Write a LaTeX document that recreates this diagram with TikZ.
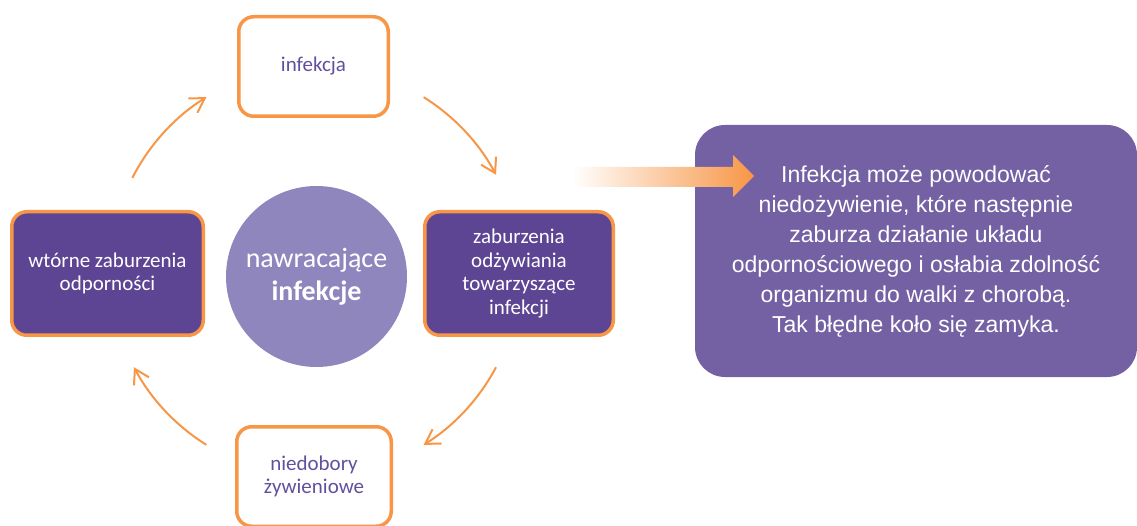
\documentclass[tikz,border=0pt]{standalone}
\usepackage{fontspec}
\setmainfont{Carlito}
\newfontfamily\arialf{Liberation Sans}
\usetikzlibrary{arrows.meta,calc}
\definecolor{orng}{HTML}{F79646}
\definecolor{darkpurp}{HTML}{5E4594}
\definecolor{circpurp}{HTML}{8F86BD}
\definecolor{bigpurp}{HTML}{7461A3}
\definecolor{txtpurp}{HTML}{62509E}
\begin{document}
\begin{tikzpicture}[x=1pt,y=1pt,
  cyclebox/.style={draw=orng, line width=3.5pt, rounded corners=15pt, align=center,
    font=\fontsize{21}{23.5}\selectfont, inner sep=0pt},
  lightbox/.style={cyclebox, fill=white, text=txtpurp},
  darkbox/.style={cyclebox, fill=darkpurp, text=white},
  cyc/.style={draw=orng, line width=2pt, -{Straight Barb[length=14pt,width=17pt]}},
  hubstyle/.style={circle, fill=circpurp, minimum size=181pt, inner sep=0pt, text=white,
    align=center, font=\fontsize{28}{33}\selectfont},
  notestyle/.style={fill=bigpurp, rounded corners=30pt, text=white, align=center,
    font=\arialf\fontsize{23}{30}\selectfont, inner sep=0pt}
]
\useasboundingbox (0,0) rectangle (1137,525);
\clip (0,0) rectangle (1137,525);

\node[lightbox, minimum width=149.5pt, minimum height=99.5pt] (top) at (313.5,458.5) {infekcja};
\node[darkbox, minimum width=191.5pt, minimum height=123.5pt] (left) at (107.5,251.5) {wtórne zaburzenia\\odporności};
\node[darkbox, minimum width=188.5pt, minimum height=123.5pt] (right) at (519,251.5) {zaburzenia\\odżywiania\\towarzyszące\\infekcji};
\node[lightbox, minimum width=154.5pt, minimum height=99.5pt] (bottom) at (314,48.5) {niedobory\\żywieniowe};
\node[hubstyle] (hub) at (316.5,248.5) {nawracające\\\textbf{infekcje}};

\coordinate (c) at (315,254);
\draw[cyc] ($(c)+(153:205pt)$) arc[start angle=153, end angle=122, radius=205pt];
\draw[cyc] ($(c)+(58:205pt)$) arc[start angle=58, end angle=28, radius=205pt];
\draw[cyc] ($(c)+(-28:205pt)$) arc[start angle=-28, end angle=-58, radius=205pt];
\draw[cyc] ($(c)+(-122:205pt)$) arc[start angle=-122, end angle=-152, radius=205pt];

\node[notestyle, minimum width=442pt, minimum height=252pt] (note) at (916,274)
  {Infekcja może powodować\\niedożywienie, które następnie\\zaburza działanie układu\\odpornościowego i osłabia zdolność\\organizmu do walki z chorobą.\\Tak błędne koło się zamyka.};

\coordinate (gs) at (572,349);
\shade[left color=white, right color=orng]
  (gs) ++(0,9) -- (733,358) -- (733,370) -- (754,349) -- (733,328) -- (733,338) -- (572,338) -- cycle;
\end{tikzpicture}
\end{document}
